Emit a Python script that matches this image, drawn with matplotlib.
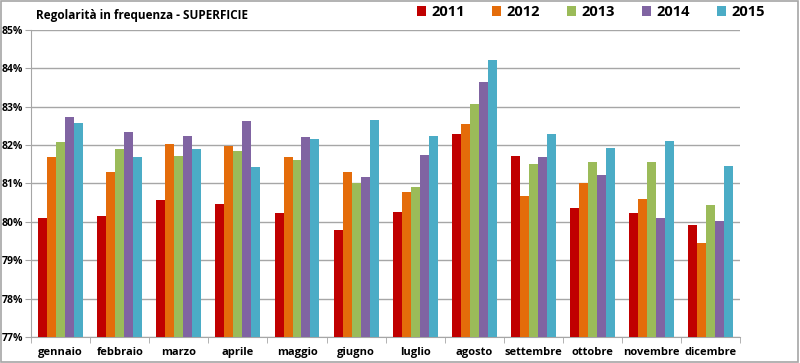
import matplotlib.pyplot as plt
import numpy as np
from matplotlib.ticker import FuncFormatter

plt.rcParams['font.family'] = ['Open Sans', 'DejaVu Sans']

mesi = ['gennaio', 'febbraio', 'marzo', 'aprile', 'maggio', 'giugno',
        'luglio', 'agosto', 'settembre', 'ottobre', 'novembre', 'dicembre']
anni = ['2011', '2012', '2013', '2014', '2015']

v2011 = [80.09, 80.16, 80.56, 80.46, 80.23, 79.79, 80.26, 82.29, 81.72, 80.35, 80.24, 79.91]
v2012 = [81.70, 81.31, 82.04, 81.99, 81.70, 81.31, 80.79, 82.56, 80.68, 81.00, 80.59, 79.46]
v2013 = [82.07, 81.91, 81.72, 81.86, 81.62, 81.00, 80.91, 83.08, 81.52, 81.55, 81.55, 80.45]
v2014 = [82.74, 82.35, 82.25, 82.63, 82.22, 81.18, 81.75, 83.66, 81.70, 81.21, 80.11, 80.03]
v2015 = [82.58, 81.70, 81.91, 81.42, 82.17, 82.66, 82.25, 84.22, 82.29, 81.93, 82.12, 81.45]

serie = [v2011, v2012, v2013, v2014, v2015]
colori = ['#C00000', '#E46C0A', '#9BBB59', '#8064A2', '#4BACC6']

fig = plt.figure(figsize=(8, 3.63), dpi=100)
ax = fig.add_axes([0.039, 0.072, 0.886, 0.845])

x = np.arange(len(mesi))
w = 0.152
base = 77
for i, (vals, col, anno) in enumerate(zip(serie, colori, anni)):
    h = np.array(vals) - base
    ax.bar(x + (i - 2) * w, h, width=w, bottom=base, color=col, label=anno, zorder=3)

ax.set_xlim(-0.5, len(mesi) - 0.5)
ax.set_ylim(77, 85)
ax.set_yticks(range(77, 86))
ax.yaxis.set_major_formatter(FuncFormatter(lambda v, p: f'{v:.0f}%'))
ax.grid(axis='y', color='#A6A6A6', linewidth=1, zorder=0)

ax.set_xticks(x)
ax.set_xticklabels(mesi, fontsize=8, fontweight='bold')
ax.set_xticks(np.arange(-0.5, len(mesi)), minor=True)
ax.tick_params(axis='x', which='major', length=0, pad=7)
ax.tick_params(axis='x', which='minor', length=4, color='#A6A6A6')
ax.tick_params(axis='y', length=4, color='#A6A6A6', labelsize=7.5, pad=2)
for lab in ax.get_yticklabels():
    lab.set_fontweight('bold')

for s in ['top', 'right']:
    ax.spines[s].set_visible(False)
for s in ['left', 'bottom']:
    ax.spines[s].set_color('#A6A6A6')

fig.text(0.045, 0.958, 'Regolarità in frequenza - SUPERFICIE', fontsize=8.5,
         fontweight='bold', va='center')

ax.legend(loc='center', bbox_to_anchor=(0.79, 1.059), ncol=5, frameon=False,
          prop={'weight': 'bold', 'size': 10.5},
          handlelength=0.6, handleheight=0.6, columnspacing=1.85, handletextpad=0.4)

fig.patches.append(plt.Rectangle((0.001, 0.002), 0.997, 0.996, transform=fig.transFigure,
                                 fill=False, edgecolor='#A6A6A6', linewidth=1.2))

fig.savefig('out.png', dpi=100)
